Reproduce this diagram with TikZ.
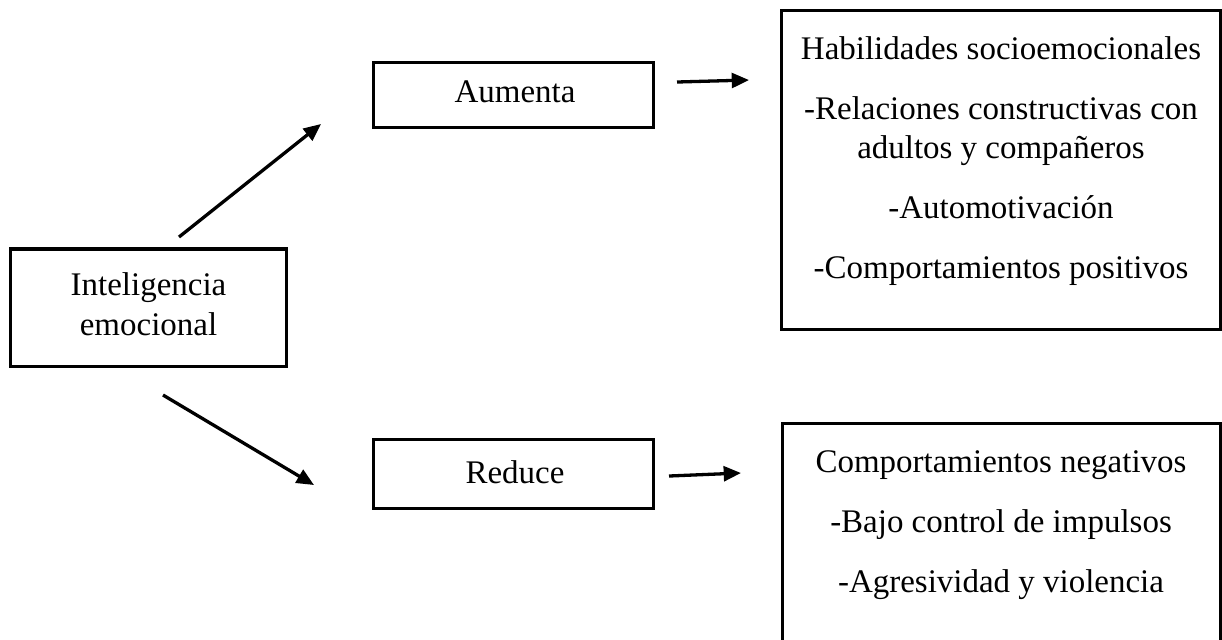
\documentclass[tikz,border=0pt]{standalone}
\usepackage{fontspec}
\setmainfont{Liberation Serif}
\usetikzlibrary{arrows.meta}

\begin{document}
\begin{tikzpicture}[x=0.364pt, y=-0.364pt, font=\fontsize{12}{14.5}\selectfont]
  \tikzstyle{box}=[draw, line width=1.1pt, inner sep=0pt]
  \tikzstyle{txt}=[align=center, inner sep=0pt]
  \tikzstyle{arrow}=[line width=1.2pt, -{Triangle[length=6.3pt,width=5.4pt]}]

  \useasboundingbox (0, 0) rectangle (1222, 639);

  \node[box, minimum width=100.8pt, minimum height=42.6pt] at (148.5, 307.5) (ie) {};
  \node[txt] at (148.5, 304) (ie-t) {Inteligencia\\ emocional};

  \node[box, minimum width=101.6pt, minimum height=24pt] at (513.5, 95) (aum) {};
  \node[txt] at (515, 92) (aum-t) {Aumenta};

  \node[box, minimum width=101.6pt, minimum height=24.8pt] at (513.5, 474) (red) {};
  \node[txt] at (515, 472) (red-t) {Reduce};

  \node[box, minimum width=159.8pt, minimum height=115.8pt] at (1000.5, 170) (hab) {};
  \node[txt] at (1001, 161) (hab-t) {Habilidades socioemocionales\\[7.3pt]
    -Relaciones constructivas con\\ adultos y compañeros\\[7.3pt]
    -Automotivación\\[7.3pt]
    -Comportamientos positivos};

  \node[box, minimum width=159.1pt, minimum height=100.8pt] at (1001.5, 561.5) (neg) {};
  \node[txt] at (1001, 525) (neg-t) {Comportamientos negativos\\[7.3pt]
    -Bajo control de impulsos\\[7.3pt]
    -Agresividad y violencia};

  \coordinate (up-a) at (179, 237);
  \coordinate (up-b) at (321, 124);
  \coordinate (dn-a) at (163, 395);
  \coordinate (dn-b) at (314, 485);
  \coordinate (aum-a) at (677, 82);
  \coordinate (aum-b) at (749, 80);
  \coordinate (red-a) at (669, 476);
  \coordinate (red-b) at (741, 473);

  \draw[arrow] (up-a) -- (up-b);
  \draw[arrow] (dn-a) -- (dn-b);
  \draw[arrow] (aum-a) -- (aum-b);
  \draw[arrow] (red-a) -- (red-b);
\end{tikzpicture}
\end{document}
